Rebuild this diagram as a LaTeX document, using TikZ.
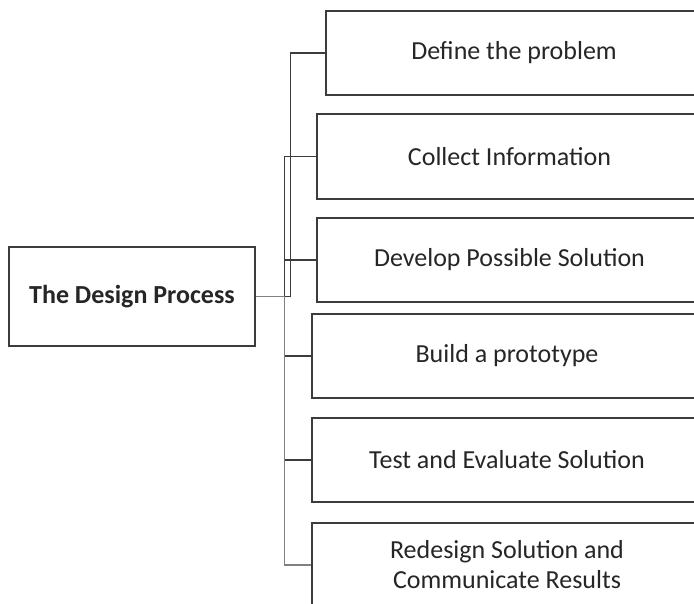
\documentclass[tikz,border=0pt]{standalone}
\usepackage{fontspec}
\setmainfont{Carlito}
\begin{document}
\begin{tikzpicture}[x=1pt,y=-1pt,
  box/.style={draw=linegray, line width=1.1pt, rectangle, minimum height=84pt, inner sep=0pt, align=center, font=\fontsize{26}{30}\selectfont, text=black!85},
  conn/.style={draw=linegray, line width=1.4pt}]
\definecolor{linegray}{HTML}{3C3C3C}
\path[use as bounding box, clip] (0,0) rectangle (694,604);
\fill[white] (0,0) rectangle (694,604);
\node[box, minimum width=246pt, minimum height=99pt, font=\fontsize{26}{30}\selectfont\bfseries] (main) at (132,296.5) {The Design Process};
\node[box, minimum width=376pt] (b1) at (514,53) {Define the problem};
\node[box, minimum width=385pt, minimum height=85pt] (b2) at (509.5,156.5) {Collect Information};
\node[box, minimum width=385pt] (b3) at (509.5,260) {Develop Possible Solution};
\node[box, minimum width=390pt] (b4) at (507,356) {Build a prototype};
\node[box, minimum width=390pt] (b5) at (507,460) {Test and Evaluate Solution};
\node[box, minimum width=390pt] (b6) at (507,565) {Redesign Solution and\\Communicate Results};
\draw[conn] (main.east) -- ++(35,0) |- (b1.west);
\draw[conn] (main.east) -- ++(29,0) |- (b2.west);
\draw[conn] (main.east) -- ++(29,0) |- (b3.west);
\draw[conn] (main.east) -- ++(29,0) |- (b4.west);
\draw[conn] (main.east) -- ++(29,0) |- (b5.west);
\draw[conn, draw=gray] (main.east) -- ++(29,0) |- (b6.west);
\end{tikzpicture}
\end{document}
